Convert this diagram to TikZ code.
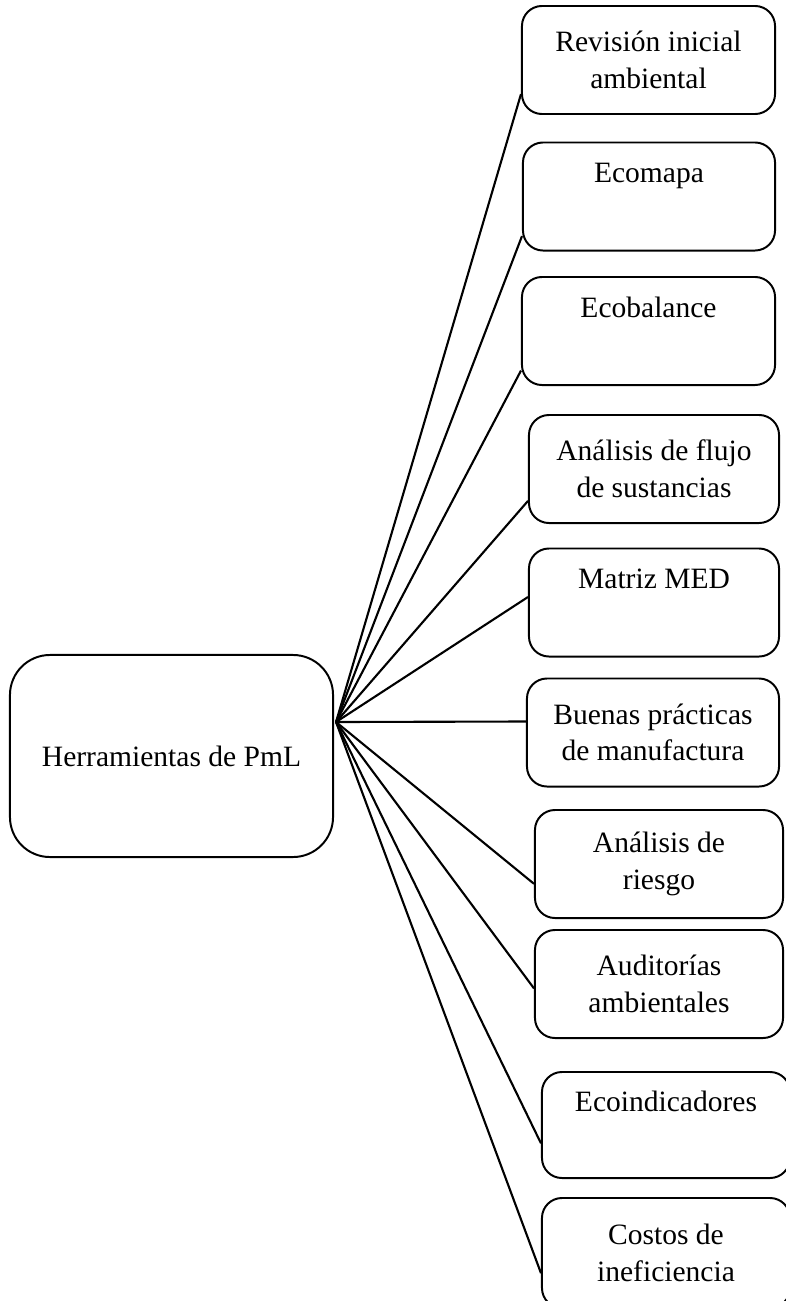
\documentclass[tikz,border=0pt]{standalone}
\usepackage{fontspec}
\setmainfont{Liberation Serif}
\usetikzlibrary{calc}
\tikzset{
  tool/.style={draw, line width=1.4pt, rounded corners=0.5cm, align=center,
    inner sep=0pt, minimum width=6.3cm, minimum height=2.7cm,
    font=\fontsize{21}{26}\selectfont},
  link/.style={line width=1.5pt}
}
\begin{document}
\begin{tikzpicture}[x=0.025cm, y=-0.025cm]
\useasboundingbox (0,0) rectangle (785,1301);

\node[tool, rounded corners=1cm, minimum width=8.075cm, minimum height=5.05cm] (hub) at (171.5,756) {Herramientas de PmL};
\coordinate (fan) at ($(hub.east)+(2,-34)$);

\node[tool, minimum width=6.325cm] (b1) at (648.5,60) {Revisión inicial\\ambiental};
\node[tool, minimum width=6.3cm] (b2) at (649,196.5) {Ecomapa\\\strut};
\node[tool, minimum width=6.325cm] (b3) at (648.5,331) {Ecobalance\\\strut};
\node[tool, minimum width=6.25cm] (b4) at (654,469) {Análisis de flujo\\de sustancias};
\node[tool, minimum width=6.25cm] (b5) at (654,602.5) {Matriz MED\\\strut};
\node[tool, minimum width=6.3cm] (b6) at (653,732.5) {Buenas prácticas\\de manufactura};
\node[tool, minimum width=6.2cm] (b7) at (659,864) {Análisis de\\riesgo};
\node[tool, minimum width=6.2cm] (b8) at (659,984) {Auditorías\\ambientales};
\node[tool, minimum width=6.2cm, minimum height=2.65cm] (b9) at (666,1125) {Ecoindicadores\\\strut};
\node[tool, minimum width=6.2cm, minimum height=2.75cm] (b10) at (666,1253) {Costos de\\ineficiencia};

\foreach \n/\f in {1/0.19,2/0.14,3/0.14,4/0.21,5/0.55,6/0.6,7/0.32,8/0.46,9/0.33,10/0.32}
  \draw[link] (fan) -- ($(b\n.south west)!\f!(b\n.north west)$);

\end{tikzpicture}
\end{document}
